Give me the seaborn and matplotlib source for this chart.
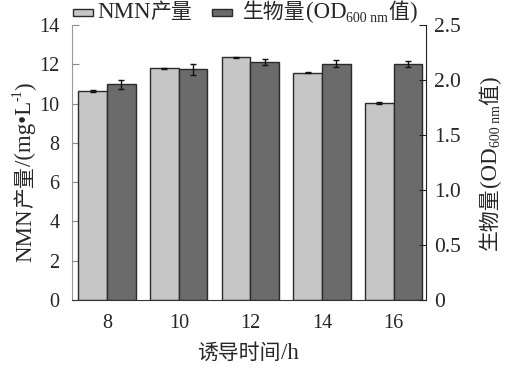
import numpy as np
import pandas as pd
import seaborn as sns
import matplotlib
matplotlib.use('Agg')
import matplotlib.pyplot as plt
from matplotlib.patches import Rectangle
from matplotlib.transforms import IdentityTransform

sns.set_style('white')
plt.rcParams['font.family'] = ['Liberation Serif', 'Noto Sans CJK SC']

# data
times = ['8', '10', '12', '14', '16']
nmn = [10.64, 11.80, 12.36, 11.57, 10.03]
nmn_err = [0.07, 0.03, 0.03, 0.03, 0.03]
biomass = [1.96, 2.10, 2.165, 2.15, 2.145]
biomass_err = [0.038, 0.05, 0.025, 0.03, 0.027]

hue_order = ['nmn', 'bio']
colors = {'nmn': '#c6c6c6', 'bio': '#6b6b6b'}
LAT, CJK, SUB = 16.5, 15, 10   # latin, chinese and sub/superscript sizes

# biomass is drawn in left-axis units, right axis is just relabelled
k = 14 / 2.5
df = pd.concat([
    pd.DataFrame({'time': times, 'value': nmn, 'series': 'nmn'}),
    pd.DataFrame({'time': times, 'value': np.array(biomass) * k, 'series': 'bio'}),
])

fig = plt.figure(figsize=(5.09, 3.68), dpi=100)
ax1 = fig.add_axes([0.1415, 0.185, 0.6955, 0.747])

sns.barplot(data=df, x='time', y='value', hue='series', hue_order=hue_order,
            palette=colors, width=0.8, errorbar=None, ax=ax1, legend=False,
            edgecolor='#2a2a2a', linewidth=1.0, saturation=1)

bars = sorted([p for p in ax1.patches if p.get_height() > 0], key=lambda p: p.get_x())
xs = np.array([p.get_x() + p.get_width() / 2 for p in bars])
ax1.errorbar(xs[0::2], nmn, yerr=nmn_err, fmt='none', ecolor='#111111',
             elinewidth=1.0, capsize=2.4, capthick=1.0)
ax1.errorbar(xs[1::2], np.array(biomass) * k, yerr=np.array(biomass_err) * k,
             fmt='none', ecolor='#111111', elinewidth=1.0, capsize=2.4, capthick=1.0)

ax1.set_xlim(-0.49, 4.45)
ax1.set_ylim(0, 14)
ax1.set_yticks(range(0, 15, 2))
ax2 = ax1.twinx()
ax2.set_ylim(0, 2.5)
ax2.set_yticks([0, 0.5, 1.0, 1.5, 2.0, 2.5])
ax2.set_yticklabels(['0', '0.5', '1.0', '1.5', '2.0', '2.5'])

ax1.set_xticks(range(5))
ax1.set_xticklabels(times)
ax1.set_xticks([0.5, 1.5, 2.5, 3.5], minor=True)
ax1.tick_params(axis='x', which='major', length=0, labelsize=14.5, pad=10)
ax1.tick_params(axis='x', which='minor', direction='in', length=3, color='#333333')
ax1.tick_params(axis='y', direction='in', length=5, labelsize=14.5, left=True,
                color='#888888', pad=9)
ax2.tick_params(axis='y', direction='in', length=5, labelsize=15.5, right=True,
                color='#222222', pad=6)

for ax in (ax1, ax2):
    ax.spines['top'].set_visible(False)
ax1.spines['left'].set_color('#999999')
ax1.spines['bottom'].set_color('#333333')
ax1.spines['right'].set_visible(False)
ax2.spines['right'].set_color('#222222')
ax2.spines['left'].set_visible(False)
ax2.spines['bottom'].set_visible(False)
ax1.set_xlabel('')
ax1.set_ylabel('')

renderer = fig.canvas.get_renderer()
px_per_pt = fig.dpi / 72
H = fig.bbox.height


def rich(pieces, x, y, rotation=0, center=True):
    """pieces: (text, size pt, baseline shift pt); x, y in pixels from top-left."""
    widths = []
    for s, size, dy in pieces:
        t = fig.text(0, 0, s, fontsize=size)
        widths.append(t.get_window_extent(renderer).width)
        t.remove()
    y = H - y
    pos = -sum(widths) / 2 if center else 0
    for (s, size, dy), w in zip(pieces, widths):
        shift = dy * px_per_pt
        if rotation == 90:
            px, py = x - shift, y + pos
        else:
            px, py = x + pos, y + shift
        fig.text(px, py, s, transform=IdentityTransform(), fontsize=size,
                 rotation=rotation, rotation_mode='anchor', ha='left', va='baseline')
        pos += w


# axis titles
rich([('诱导时间', CJK, 0), ('/h', LAT, 0)], 248, 359)
rich([('NMN', LAT, 0), ('产量', CJK, 0), ('/(mg•L', LAT, 0), ('-1', SUB, 7),
      (')', LAT, 0)], 31, 172, rotation=90)
rich([('生物量', CJK, 0), ('(OD', LAT, 0), ('600 nm', SUB, -3), ('值', CJK, 0),
      (')', LAT, 0)], 496, 163, rotation=90)

# legend keys and labels
for x0, key in [(73, 'nmn'), (212, 'bio')]:
    fig.add_artist(Rectangle((x0, H - 16), 20, 7, transform=IdentityTransform(),
                             facecolor=colors[key], edgecolor='#2a2a2a', linewidth=1.0))
rich([('NMN', LAT, 0), ('产量', CJK, 0)], 97, 18, center=False)
rich([('生物量', CJK, 0), ('(OD', LAT, 0), ('600 nm', SUB, -3), ('值', CJK, 0),
      (')', LAT, 0)], 243, 18, center=False)

fig.savefig('out.png', dpi=100)
